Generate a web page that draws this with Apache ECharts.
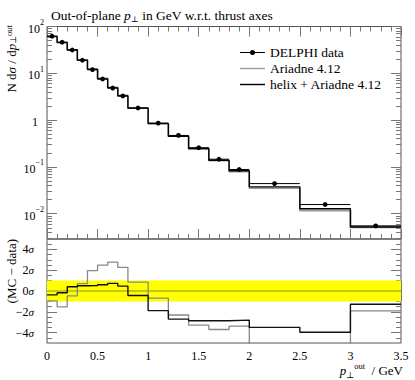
<!DOCTYPE html>
<html><head><meta charset="utf-8">
<script src="https://cdn.jsdelivr.net/npm/echarts@6/dist/echarts.min.js"></script>
<style>html,body{margin:0;padding:0;background:#fff}#c{width:415px;height:380px}</style>
</head><body><div id="c"></div>
<script>
// Out-of-plane pT wrt thrust axes: DELPHI data vs Ariadne / helix+Ariadne
const F = 'Liberation Serif, DejaVu Serif, serif';
const edges = [0,0.1,0.2,0.3,0.4,0.5,0.6,0.7,0.8,1.0,1.2,1.4,1.6,1.8,2.0,2.5,3.0,3.5];
const dataVals = [62,46,31.5,19,12,7.55,4.84,3.27,1.81,0.86,0.47,0.257,0.146,0.088,0.044,0.0157,0.0055];
const helix    = [61.5,45.8,31.8,19.1,12.1,7.6,4.88,3.29,1.80,0.84,0.452,0.247,0.139,0.083,0.0375,0.0128,0.0052];
const ariadne  = [61.0,44.8,31.3,19.2,12.4,7.8,5.0,3.38,1.83,0.855,0.458,0.243,0.136,0.079,0.035,0.0116,0.0051];
// (MC - data)/sigma
const devHelix   = [-0.37,-0.17,0.41,0.5,0.53,0.6,0.73,0.47,-0.43,-1.89,-2.7,-2.86,-2.86,-2.8,-3.5,-3.96,-1.27];
const devAriadne = [-0.95,-1.53,-0.47,0.7,1.96,2.48,2.77,2.28,0.86,-0.69,-2.31,-3.28,-3.7,-3.38,-6.5,-7.5,-1.92];
const band = [-1, 1];
const logTicks = [0.01,0.1,1,10,100];
const sigmaTicks = [-4,-2,0,2,4];
const sigmaMinor = [-4.5,-3.5,-3,-2.5,-1.5,-1,-0.5,0.5,1,1.5,2.5,3,3.5,4.5];
const logMinor = [];
for (let e=-3;e<2;e++) for (let m=2;m<10;m++){const v=+(m*Math.pow(10,e)).toPrecision(3); if(v>0.00288&&v<100) logMinor.push(v);}

const steps = v => edges.map((e,i)=>[e, v[Math.min(i, v.length-1)]]);
const TICK = '#777', FRAME = '#555';

function xax(grid,pos,labels){
  return {type:'value',gridIndex:grid,position:pos,min:0,max:3.5,interval:0.5,
    axisLine:{show:false},splitLine:{show:false},
    axisTick:{inside:true,length:10,lineStyle:{color:TICK}},
    minorTick:{show:true,splitNumber:5,length:5,lineStyle:{color:TICK}},
    axisLabel:labels?{fontFamily:F,fontSize:12,color:'#000',margin:7}:{show:false}};
}
function logax(pos,ticks,len,labels){
  return {type:'log',logBase:10,gridIndex:0,position:pos,min:0.00288,max:100,
    axisLine:{show:false},splitLine:{show:false},minorTick:{show:false},
    axisTick:{inside:true,length:len,customValues:ticks,lineStyle:{color:TICK}},
    axisLabel:labels?{customValues:ticks,margin:3,formatter:v=>{
      const e=Math.round(Math.log10(v));
      if(e===0) return '{b|1}{sp| }';
      return '{b|10}{s|'+(e<0?'\u2212':'')+Math.abs(e)+'}';},
      rich:{b:{fontFamily:F,fontSize:12,color:'#000',lineHeight:16,verticalAlign:'bottom'},
            s:{fontFamily:F,fontSize:8,color:'#000',lineHeight:8,verticalAlign:'top'},
            sp:{fontSize:7,width:6}}}:{show:false}};
}
function sigax(pos,ticks,len,labels){
  return {type:'value',gridIndex:1,position:pos,min:-5,max:5,
    axisLine:{show:false},splitLine:{show:false},minorTick:{show:false},
    axisTick:{inside:true,length:len,customValues:ticks,lineStyle:{color:TICK}},
    axisLabel:labels?{customValues:ticks,margin:13,
      formatter:v=>'{n|'+(v<0?'\u2212':'')+Math.abs(v)+'}{i|\u03c3}',
      rich:{n:{fontFamily:F,fontSize:12,color:'#000'},i:{fontFamily:F,fontStyle:'italic',fontSize:11,color:'#000'}}}:{show:false}};
}

const chart = echarts.init(document.getElementById('c'), null, {renderer:'svg'});
const rt = {i:{fontFamily:F,fontStyle:'italic',fontSize:13},
  sub:{fontFamily:F,fontSize:8.5,verticalAlign:'bottom',lineHeight:8},
  sup:{fontFamily:F,fontSize:8.5,verticalAlign:'top',lineHeight:8},
  t:{fontFamily:F,fontSize:13,lineHeight:18}};

chart.setOption({
  animation:false,
  title:{text:'Out-of-plane {i|p}{sub|\u22a5} in GeV w.r.t. thrust axes',left:46,top:2,
    textStyle:{fontFamily:F,fontSize:13.5,fontWeight:'normal',color:'#000',lineHeight:16,
      rich:{i:{fontFamily:F,fontStyle:'italic',fontSize:13.5,color:'#000'},
            sub:{fontFamily:F,fontSize:8.5,color:'#000',verticalAlign:'bottom',lineHeight:8}}}},
  legend:{orient:'vertical',left:235,top:40,itemWidth:25,itemHeight:12,itemGap:1,selectedMode:false,
    textStyle:{fontFamily:F,fontSize:13.5,lineHeight:15,color:'#000'},
    data:[{name:'DELPHI data',icon:'path://M0,4.4h25v1.2h-25zM12.5,2.5a2.5,2.5,0,1,1,0,5a2.5,2.5,0,1,1,0,-5z'},
          {name:'Ariadne 4.12',icon:'path://M0,0h25v1.4h-25z'},
          {name:'helix + Ariadne 4.12',icon:'path://M0,0h25v1.4h-25z'}]},
  grid:[{left:47,top:26.5,width:354,height:212.5,show:true,borderColor:FRAME,borderWidth:1},
        {left:47,top:239,width:354,height:104,show:true,borderColor:FRAME,borderWidth:1}],
  xAxis:[xax(0,'bottom',false),xax(0,'top',false),xax(1,'bottom',true),xax(1,'top',false)],
  yAxis:[logax('left',logTicks,10,true),logax('left',logMinor,5,false),
         logax('right',logTicks,10,false),logax('right',logMinor,5,false),
         sigax('left',sigmaTicks,10,true),sigax('left',sigmaMinor,5,false),
         sigax('right',sigmaTicks,10,false),sigax('right',sigmaMinor,5,false)],
  graphic:[
    {type:'text',x:11,y:25,rotation:Math.PI/2,style:{text:'N d{i|\u03c3} / d{i|p}{sub|\u22a5}{sup|out}',
      fontFamily:F,fontSize:13,fill:'#000',align:'right',verticalAlign:'middle',rich:rt}},
    {type:'text',x:11,y:239,rotation:Math.PI/2,style:{text:'(MC \u2212 data)',
      fontFamily:F,fontSize:13,fill:'#000',align:'right',verticalAlign:'middle'}},
    {type:'text',x:403,y:370,style:{text:'{i|p}{sub|\u22a5}{sup|out}{t|  / GeV}',
      fontFamily:F,fontSize:13,fill:'#000',align:'right',verticalAlign:'middle',rich:rt}}
  ],
  series:[
    {name:'Ariadne 4.12',type:'line',xAxisIndex:0,yAxisIndex:0,step:'end',symbol:'none',z:2,
      data:steps(ariadne),color:'#999',lineStyle:{color:'#999',width:1.7}},
    {name:'helix + Ariadne 4.12',type:'line',xAxisIndex:0,yAxisIndex:0,step:'end',symbol:'none',z:3,
      data:steps(helix),color:'#000',lineStyle:{color:'#000',width:1.4}},
    {name:'DELPHI data',type:'custom',xAxisIndex:0,yAxisIndex:0,z:4,color:'#000',
      encode:{x:[0,1,2],y:3},
      data:dataVals.map((v,i)=>[edges[i],edges[i+1],(edges[i]+edges[i+1])/2,v]),
      renderItem:(p,api)=>{
        const y=api.value(3),a=api.coord([api.value(0),y]),b=api.coord([api.value(1),y]),c=api.coord([api.value(2),y]);
        return {type:'group',children:[
          {type:'line',shape:{x1:a[0],y1:a[1],x2:b[0],y2:b[1]},style:{stroke:'#000',lineWidth:1}},
          {type:'circle',shape:{cx:c[0],cy:c[1],r:2.4},style:{fill:'#000'}}]};
      }},
    {name:'band',type:'custom',xAxisIndex:2,yAxisIndex:4,z:1,silent:true,
      encode:{x:[0,1],y:[2,3]},
      data:[[0,3.5,band[0],band[1]]],
      renderItem:(p,api)=>{
        const a=api.coord([api.value(0),api.value(3)]),b=api.coord([api.value(1),api.value(2)]);
        const m=api.coord([0,0]);
        return {type:'group',children:[
          {type:'rect',shape:{x:a[0],y:a[1],width:b[0]-a[0],height:b[1]-a[1]},style:{fill:'#ffff00'}},
          {type:'line',shape:{x1:a[0],y1:m[1],x2:b[0],y2:m[1]},style:{stroke:'#b4b420',lineWidth:1.3}}]};
      }},
    {name:'dev Ariadne',type:'line',xAxisIndex:2,yAxisIndex:4,step:'end',symbol:'none',z:2,
      data:steps(devAriadne),lineStyle:{color:'#888',width:1.3}},
    {name:'dev helix',type:'line',xAxisIndex:2,yAxisIndex:4,step:'end',symbol:'none',z:3,
      data:steps(devHelix),lineStyle:{color:'#111',width:1.4}}
  ]
});
</script></body></html>
